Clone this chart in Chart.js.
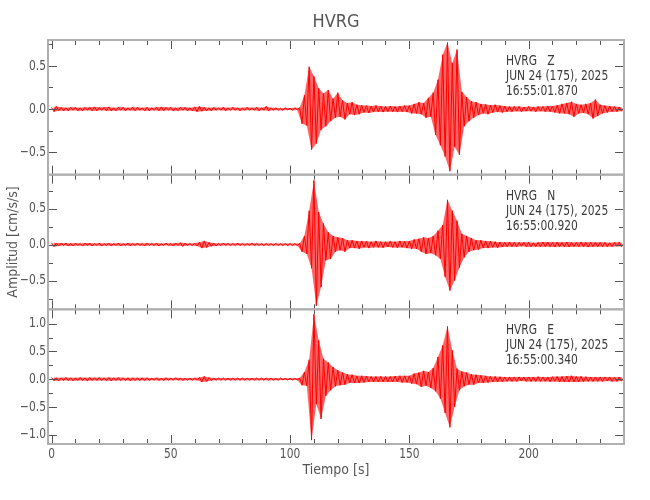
<!DOCTYPE html>
<html><head><meta charset="utf-8">
<script src="https://cdn.jsdelivr.net/npm/chart.js@4/dist/chart.umd.min.js"></script>
<style>html,body{margin:0;padding:0;background:#fff;}#wrap{width:650px;height:500px;position:relative;}</style>
</head><body><div id="wrap"><canvas id="c" width="650" height="500"></canvas></div>
<script>
const FONT = "'Liberation Sans Narrow','DejaVu Sans Condensed','Roboto Condensed',sans-serif";
const station = 'HVRG';
const components = ['Z', 'N', 'E'];
const dateLabel = 'JUN 24 (175), 2025';
const startTimes = ['16:55:01.870', '16:55:00.920', '16:55:00.340'];
const sampleInterval = 1; // seconds between samples
const xRange = [-1.5, 240];
const xTickLabels = [0, 50, 100, 150, 200];
const xMinorTicks = [0,10,20,30,40,50,60,70,80,90,100,110,120,130,140,150,160,170,180,190,200,210,220,230,240];
const zRange = [-0.76, 0.80];
const nRange = [-0.90, 0.97];
const eRange = [-1.17, 1.26];
const zTicks = [-0.5, 0, 0.5];
const nTicks = [-0.5, 0, 0.5];
const eTicks = [-1, -0.5, 0, 0.5, 1];
const zMinor = [-0.75, -0.25, 0.25, 0.75];
const nMinor = [-0.75, -0.25, 0.25, 0.75];
const eMinor = [-0.75, -0.25, 0.25, 0.75];

// Amplitude samples [cm/s/s], one per second from t = 0 s (alternating peaks / troughs)
const zAmp = [
0.02,-0.03,0.03,-0.02,0.02,-0.02,0.015,-0.02,0.02,-0.015,
0.02,-0.02,0.015,-0.02,0.02,-0.015,0.02,-0.02,0.025,-0.02,
0.02,-0.015,0.02,-0.02,0.025,-0.02,0.015,-0.02,0.02,-0.015,
0.02,-0.02,0.015,-0.015,0.02,-0.02,0.02,-0.015,0.015,-0.02,
0.02,-0.02,0.015,-0.015,0.02,-0.02,0.025,-0.02,0.02,-0.015,
0.02,-0.02,0.015,-0.02,0.02,-0.015,0.02,-0.02,0.015,-0.02,
0.025,-0.03,0.03,-0.025,0.02,-0.02,0.015,-0.02,0.02,-0.015,
0.015,-0.015,0.02,-0.02,0.015,-0.015,0.02,-0.015,0.015,-0.02,
0.015,-0.015,0.02,-0.015,0.015,-0.015,0.02,-0.02,0.015,-0.015,
0.03,-0.02,0.015,-0.015,0.015,-0.015,0.01,-0.015,0.015,-0.01,
0.01,-0.015,0.015,-0.01,0.015,-0.17,0.16,-0.19,0.49,-0.47,
0.38,-0.4,0.24,-0.24,0.18,-0.2,0.22,-0.14,0.12,-0.1,
0.19,-0.09,0.1,-0.12,0.07,-0.06,0.08,-0.07,0.05,-0.06,
0.045,-0.04,0.04,-0.045,0.035,-0.035,0.04,-0.03,0.035,-0.035,
0.03,-0.03,0.035,-0.03,0.03,-0.035,0.035,-0.03,0.04,-0.035,
0.04,-0.05,0.06,-0.05,0.08,-0.06,0.07,-0.1,0.13,-0.09,
0.19,-0.3,0.34,-0.42,0.63,-0.55,0.77,-0.72,0.53,-0.44,
0.69,-0.53,0.2,-0.2,0.14,-0.14,0.09,-0.1,0.08,-0.07,
0.06,-0.05,0.055,-0.06,0.045,-0.04,0.05,-0.035,0.04,-0.04,
0.035,-0.03,0.03,-0.03,0.03,-0.025,0.03,-0.03,0.025,-0.025,
0.03,-0.025,0.025,-0.03,0.03,-0.025,0.03,-0.03,0.035,-0.03,
0.035,-0.04,0.045,-0.05,0.06,-0.05,0.07,-0.06,0.085,-0.09,
0.06,-0.05,0.05,-0.045,0.06,-0.06,0.07,-0.11,0.11,-0.08,
0.05,-0.05,0.04,-0.04,0.035,-0.03,0.03,-0.03,0.025,-0.025,0.02];

const nAmp = [
0.025,-0.03,0.02,-0.02,0.02,-0.015,0.02,-0.02,0.015,-0.02,
0.02,-0.015,0.015,-0.02,0.02,-0.015,0.02,-0.02,0.015,-0.015,
0.02,-0.02,0.015,-0.015,0.02,-0.02,0.015,-0.015,0.02,-0.02,
0.015,-0.015,0.02,-0.02,0.015,-0.015,0.02,-0.015,0.015,-0.02,
0.02,-0.015,0.015,-0.015,0.02,-0.02,0.015,-0.015,0.02,-0.015,
0.015,-0.02,0.02,-0.015,0.025,-0.025,0.02,-0.015,0.015,-0.015,
0.02,-0.02,0.03,-0.05,0.05,-0.04,0.03,-0.025,0.02,-0.02,
0.015,-0.015,0.02,-0.015,0.015,-0.015,0.015,-0.015,0.02,-0.015,
0.015,-0.015,0.015,-0.015,0.02,-0.015,0.015,-0.015,0.015,-0.015,
0.015,-0.015,0.015,-0.015,0.015,-0.015,0.015,-0.015,0.015,-0.015,
0.015,-0.015,0.015,-0.015,0.015,-0.1,0.12,-0.13,0.47,-0.33,
0.89,-0.85,0.45,-0.59,0.29,-0.22,0.17,-0.2,0.12,-0.1,
0.1,-0.08,0.09,-0.1,0.06,-0.05,0.06,-0.05,0.05,-0.06,
0.05,-0.04,0.045,-0.05,0.04,-0.04,0.05,-0.04,0.04,-0.045,
0.04,-0.035,0.045,-0.04,0.04,-0.045,0.05,-0.04,0.045,-0.05,
0.05,-0.06,0.07,-0.06,0.08,-0.1,0.1,-0.13,0.09,-0.12,
0.12,-0.15,0.19,-0.2,0.27,-0.45,0.62,-0.64,0.47,-0.5,
0.33,-0.32,0.15,-0.18,0.12,-0.1,0.09,-0.08,0.06,-0.07,
0.06,-0.05,0.05,-0.05,0.045,-0.04,0.04,-0.045,0.035,-0.035,
0.03,-0.03,0.035,-0.03,0.03,-0.03,0.03,-0.025,0.03,-0.03,
0.03,-0.03,0.025,-0.03,0.03,-0.03,0.035,-0.03,0.035,-0.03,
0.03,-0.035,0.035,-0.03,0.03,-0.03,0.035,-0.035,0.03,-0.03,
0.03,-0.03,0.035,-0.03,0.03,-0.035,0.03,-0.03,0.03,-0.03,
0.03,-0.03,0.03,-0.03,0.025,-0.03,0.03,-0.025,0.03,-0.03,0.025];

const eAmp = [
0.03,-0.03,0.025,-0.03,0.025,-0.025,0.03,-0.025,0.025,-0.03,
0.025,-0.025,0.03,-0.025,0.025,-0.03,0.03,-0.025,0.025,-0.025,
0.03,-0.025,0.025,-0.025,0.03,-0.03,0.025,-0.025,0.03,-0.025,
0.025,-0.025,0.025,-0.03,0.025,-0.025,0.025,-0.025,0.025,-0.025,
0.025,-0.025,0.02,-0.02,0.025,-0.025,0.02,-0.025,0.025,-0.02,
0.02,-0.02,0.025,-0.02,0.02,-0.025,0.02,-0.02,0.02,-0.02,
0.02,-0.02,0.03,-0.05,0.05,-0.04,0.03,-0.025,0.02,-0.02,
0.02,-0.02,0.02,-0.02,0.02,-0.02,0.02,-0.02,0.02,-0.02,
0.02,-0.02,0.02,-0.02,0.02,-0.02,0.02,-0.02,0.02,-0.02,
0.02,-0.02,0.02,-0.02,0.015,-0.02,0.02,-0.015,0.015,-0.015,
0.015,-0.015,0.015,-0.015,0.02,-0.11,0.13,-0.12,0.35,-1.1,
1.17,-0.45,0.7,-0.72,0.37,-0.3,0.3,-0.2,0.22,-0.13,
0.16,-0.11,0.12,-0.1,0.09,-0.07,0.08,-0.07,0.06,-0.07,
0.06,-0.06,0.055,-0.05,0.05,-0.05,0.05,-0.05,0.05,-0.05,
0.05,-0.05,0.05,-0.05,0.055,-0.05,0.06,-0.06,0.06,-0.06,
0.06,-0.08,0.1,-0.09,0.12,-0.14,0.15,-0.12,0.13,-0.16,
0.2,-0.22,0.4,-0.35,0.61,-0.61,0.95,-0.87,0.52,-0.5,
0.19,-0.2,0.14,-0.13,0.12,-0.1,0.09,-0.1,0.08,-0.07,
0.07,-0.07,0.06,-0.06,0.05,-0.05,0.05,-0.05,0.045,-0.045,
0.04,-0.04,0.04,-0.04,0.04,-0.04,0.04,-0.035,0.04,-0.04,
0.04,-0.04,0.04,-0.04,0.045,-0.04,0.04,-0.04,0.04,-0.045,
0.045,-0.04,0.05,-0.05,0.05,-0.05,0.055,-0.05,0.06,-0.05,
0.05,-0.05,0.05,-0.045,0.045,-0.04,0.04,-0.04,0.04,-0.04,
0.04,-0.04,0.04,-0.035,0.04,-0.04,0.035,-0.04,0.04,-0.035,0.035];

const TEXT = '#555555';
const TRACE = '#ff0000';
const BAND = 'rgba(255,0,0,0.6)';
const NARROW = 0.85; // horizontal squeeze imitating the narrow plotting font
const toPoints = arr => arr.map((v, i) => ({x: i * sampleInterval, y: v}));
const peaks = arr => toPoints(arr).filter(p => p.y >= 0);
const troughs = arr => toPoints(arr).filter(p => p.y < 0);
const fmt = v => (v < 0 ? '\u2212' : '') + Math.abs(v).toFixed(1);

const axisIds = ['yZ', 'yN', 'yE'];
const traces = [zAmp, nAmp, eAmp];
const minorSets = {yZ: zMinor, yN: nMinor, yE: eMinor};

function yAxis(range, ticks) {
  return {
    type: 'linear', position: 'left', stack: 'traces', stackWeight: 1,
    min: range[0], max: range[1],
    grid: {display: false, drawTicks: false}, border: {display: false},
    ticks: {display: false},
    afterBuildTicks: s => { s.ticks = ticks.map(v => ({value: v})); },
    afterFit: s => { s.width = 48; }
  };
}

const datasets = [];
traces.forEach((arr, k) => {
  const id = axisIds[k];
  datasets.push({label: components[k] + ' low', data: troughs(arr), yAxisID: id,
    borderWidth: 0, pointRadius: 0, tension: 0, fill: false, borderColor: 'rgba(0,0,0,0)'});
  datasets.push({label: components[k] + ' high', data: peaks(arr), yAxisID: id,
    borderWidth: 0, pointRadius: 0, tension: 0, fill: '-1', backgroundColor: BAND, borderColor: 'rgba(0,0,0,0)'});
  datasets.push({label: components[k], data: toPoints(arr), yAxisID: id,
    borderWidth: 1, pointRadius: 0, tension: 0, fill: false, borderColor: TRACE});
});

function narrowText(ctx, text, x, y) {
  ctx.save();
  ctx.translate(x, y);
  ctx.scale(NARROW, 1);
  ctx.fillText(text, 0, 0);
  ctx.restore();
}

const panelPlugin = {
  id: 'panels',
  afterDatasetsDraw(chart) {
    const ctx = chart.ctx, ca = chart.chartArea, xs = chart.scales.x;
    ctx.save();
    axisIds.forEach((id, k) => {
      const s = chart.scales[id];
      const top = s.top, bot = s.bottom, L = ca.left, R = ca.right;
      ctx.strokeStyle = '#555'; ctx.lineWidth = 1;
      ctx.beginPath();
      xMinorTicks.forEach(v => {
        const px = Math.round(xs.getPixelForValue(v)) + 0.5;
        const len = v % 50 === 0 ? 9 : 5;
        ctx.moveTo(px, top); ctx.lineTo(px, top + len);
        ctx.moveTo(px, bot); ctx.lineTo(px, bot - len);
      });
      const majors = s.ticks.map(t => t.value);
      majors.concat(minorSets[id]).forEach(v => {
        const py = Math.round(s.getPixelForValue(v)) + 0.5;
        const len = majors.includes(v) ? 9 : 5;
        ctx.moveTo(L, py); ctx.lineTo(L + len, py);
        ctx.moveTo(R, py); ctx.lineTo(R - len, py);
      });
      ctx.stroke();
      ctx.strokeStyle = '#b0b0b0'; ctx.lineWidth = 2;
      ctx.strokeRect(L, top, R - L, bot - top);
      // y tick labels
      ctx.fillStyle = TEXT; ctx.font = '14px ' + FONT;
      ctx.textAlign = 'right'; ctx.textBaseline = 'middle';
      majors.forEach(v => narrowText(ctx, fmt(v), L - 2, s.getPixelForValue(v)));
      // annotation
      ctx.fillStyle = '#3a3a3a';
      ctx.textAlign = 'left'; ctx.textBaseline = 'alphabetic';
      narrowText(ctx, station + '   ' + components[k], L + 458, top + 25);
      narrowText(ctx, dateLabel, L + 458, top + 40);
      narrowText(ctx, startTimes[k], L + 458, top + 55);
    });
    // x tick labels
    ctx.fillStyle = TEXT; ctx.font = '14px ' + FONT;
    ctx.textAlign = 'center'; ctx.textBaseline = 'middle';
    xTickLabels.forEach(v => narrowText(ctx, String(v), xs.getPixelForValue(v), ca.bottom + 10));
    // y axis title
    ctx.translate(13, (ca.top + ca.bottom) / 2);
    ctx.rotate(-Math.PI / 2);
    ctx.textAlign = 'center'; ctx.textBaseline = 'middle';
    ctx.fillText('Amplitud [cm/s/s]', 0, 0);
    ctx.restore();
  }
};

new Chart(document.getElementById('c'), {
  type: 'line',
  data: {datasets},
  options: {
    responsive: false, animation: false, events: [],
    layout: {padding: {left: 0, right: 26, top: 0, bottom: 0}},
    plugins: {
      legend: {display: false}, tooltip: {enabled: false},
      filler: {propagate: false},
      title: {display: true, text: station, fullSize: false, color: TEXT,
        font: {family: FONT, size: 18, weight: 'normal'}, padding: {top: 12, bottom: 6.4}}
    },
    scales: {
      x: {
        type: 'linear', min: xRange[0], max: xRange[1],
        grid: {display: false, drawTicks: false}, border: {display: false},
        ticks: {display: false},
        afterBuildTicks: s => { s.ticks = xTickLabels.map(v => ({value: v})); },
        afterFit: s => { s.height = 56; },
        title: {display: true, text: 'Tiempo [s]', color: TEXT, font: {family: FONT, size: 14}, padding: {top: 0, bottom: 21}}
      },
      yE: yAxis(eRange, eTicks),
      yN: yAxis(nRange, nTicks),
      yZ: yAxis(zRange, zTicks)
    }
  },
  plugins: [panelPlugin]
});
</script></body></html>
